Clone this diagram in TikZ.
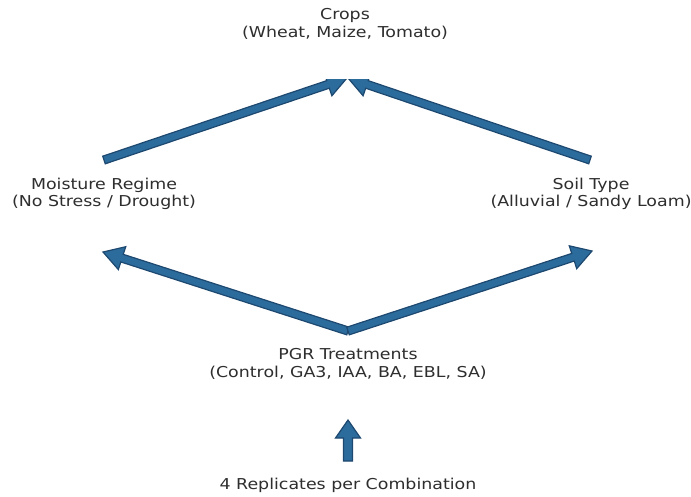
\documentclass[tikz,border=0pt]{standalone}
\usepackage{fontspec}
\usetikzlibrary{calc}
\newfontfamily\dv[FakeStretch=1.16]{DejaVu Sans}
\definecolor{arrfill}{HTML}{2C6C9C}
\definecolor{arredge}{HTML}{1D4870}
\tikzset{
  lbl/.style={font=\dv\fontsize{15}{17.5}\selectfont, text=black!82, align=center, inner sep=0pt},
  fat/.style={fill=arrfill, draw=arredge, line width=1.2pt, line join=miter},
}
% tail, tip, half shaft width, half head width, head length
\newcommand{\fatarrow}[5]{%
  \coordinate (fa-h) at ($(#2)!#5!(#1)$);
  \draw[fat] ($(#1)!#3!90:(#2)$) -- ($(fa-h)!#3!90:(#2)$) -- ($(fa-h)!#4!90:(#2)$)
    -- (#2) -- ($(fa-h)!#4!-90:(#2)$) -- ($(fa-h)!#3!-90:(#2)$) -- ($(#1)!#3!-90:(#2)$) -- cycle;
}
\begin{document}
\begin{tikzpicture}[x=1pt,y=-1pt]
\fill[white] (0,0) rectangle (691,496);
\useasboundingbox (0,0) rectangle (691,496);

\node[lbl] (crops) at (345,24) {Crops\\(Wheat, Maize, Tomato)};
\node[lbl] (moist) at (104,194) {Moisture Regime\\(No Stress / Drought)};
\node[lbl] (soil) at (591,194) {Soil Type\\(Alluvial / Sandy Loam)};
\node[lbl] (pgr) at (348,364) {PGR Treatments\\(Control, GA3, IAA, BA, EBL, SA)};
\node[lbl] (rep) at (348,485) {4 Replicates per Combination};

\coordinate (tl-tail) at (104,160);
\coordinate (tl-tip) at (347,78);
\coordinate (tr-tail) at (590,160);
\coordinate (tr-tip) at (348,78);
\coordinate (pgr-top) at (348,331);
\coordinate (bl-tip) at (103,252);
\coordinate (br-tip) at (592,251);
\coordinate (rep-top) at (348,461);
\coordinate (up-tip) at (348,420);

\begin{scope}
\clip (0,79) rectangle (691,496);
\fatarrow{tl-tail}{tl-tip}{4pt}{12pt}{20pt}
\fatarrow{tr-tail}{tr-tip}{4pt}{12pt}{20pt}
\fatarrow{pgr-top}{bl-tip}{4pt}{12pt}{20pt}
\fatarrow{pgr-top}{br-tip}{4pt}{12pt}{20pt}
\fatarrow{rep-top}{up-tip}{4.5pt}{12.5pt}{18pt}
\end{scope}
\end{tikzpicture}
\end{document}
